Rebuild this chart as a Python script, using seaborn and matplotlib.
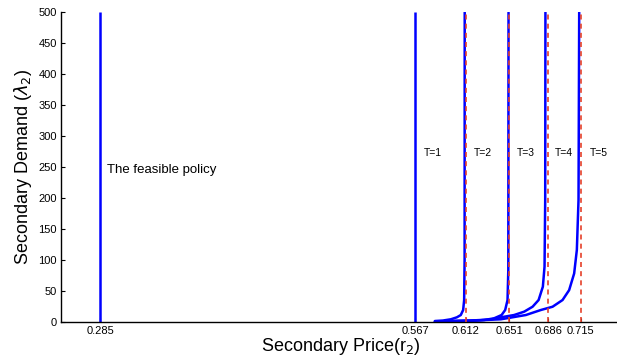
import matplotlib
matplotlib.use("Agg")
import matplotlib.pyplot as plt
import pandas as pd
import seaborn as sns

# vertical policy lines (feasible policy and T=1)
policy_x = [0.285, 0.567]
# asymptotes (red dashed) for T=2..5
asym_x = [0.612, 0.651, 0.686, 0.715]
x_ticks = [0.285, 0.567, 0.612, 0.651, 0.686, 0.715]
y_ticks = list(range(0, 501, 50))

# demand curves
t2_r = [0.5844, 0.5916, 0.5987, 0.6041, 0.6076, 0.6097, 0.6106, 0.6110, 0.6111]
t2_l = [1.1, 1.9, 3.9, 7.1, 10.8, 18.9, 35, 100, 500]
t3_r = [0.5845, 0.6032, 0.6167, 0.6285, 0.6374, 0.6441, 0.6473, 0.6494, 0.6501, 0.6503]
t3_l = [0.3, 1.1, 1.5, 2.7, 5.5, 10.8, 18.9, 35, 84, 500]
t4_r = [0.5845, 0.6166, 0.6345, 0.6434, 0.6553, 0.6643, 0.6718, 0.6772, 0.6810,
        0.6825, 0.6831, 0.6833]
t4_l = [0.3, 1.9, 3.6, 7.1, 10.8, 16.2, 24.2, 35, 56.6, 89, 197, 500]
t5_r = [0.5845, 0.6166, 0.6434, 0.6658, 0.6792, 0.6897, 0.6986, 0.7045, 0.7090,
        0.7114, 0.7129, 0.7135]
t5_l = [0.3, 1.6, 3.9, 10.8, 18.9, 24.2, 35, 51, 78, 116, 197, 500]

t_labels = ["T=1", "T=2", "T=3", "T=4", "T=5"]
t_label_x = [0.5743, 0.6196, 0.6578, 0.6917, 0.7230]

sns.set_style("ticks")
plt.rcParams['font.family'] = ['Liberation Sans', 'DejaVu Sans']
plt.rcParams['text.color'] = 'black'
plt.rcParams['axes.labelcolor'] = 'black'
plt.rcParams['xtick.color'] = 'black'
plt.rcParams['ytick.color'] = 'black'

fig = plt.figure(figsize=(6.17, 3.62), dpi=100)
ax = fig.add_axes([61 / 617, 40.3 / 362, 559 / 617, 309.4 / 362])

blue = '#0000ff'
red = '#e5412a'

ax.vlines(policy_x, 0, 500, color=blue, linewidth=1.8, zorder=2)

curves = [(t2_r, t2_l), (t3_r, t3_l), (t4_r, t4_l), (t5_r, t5_l)]
for r, l in curves:
    df = pd.DataFrame({'r': r, 'lam': l})
    sns.lineplot(data=df, x='r', y='lam', sort=False, color=blue,
                 linewidth=1.8, ax=ax, zorder=2, solid_joinstyle='round')

ax.vlines(asym_x, 0, 500, color=red, linewidth=1.2, linestyles=(0, (3, 2.5)),
          zorder=3)

ax.text(0.291, 245, "The feasible policy", fontsize=9.5, va='center', ha='left')
for lab, xl in zip(t_labels, t_label_x):
    ax.text(xl, 273, lab, fontsize=7.5, va='center', ha='left')

ax.set_xlim(0.25, 0.75)
ax.set_ylim(0, 500)
ax.set_xticks(x_ticks)
ax.set_xticklabels([f'{v:.3f}' for v in x_ticks], fontsize=8)
ax.set_yticks(y_ticks)
ax.set_yticklabels([str(v) for v in y_ticks], fontsize=8)
ax.tick_params(direction='in', length=3, width=0.8, pad=3)
ax.set_xlabel(r'Secondary Price(r$_2$)', fontsize=13, labelpad=0)
ax.set_ylabel(r'Secondary Demand ($\lambda_2$)', fontsize=13, labelpad=3)
sns.despine(ax=ax)
for s in ['left', 'bottom']:
    ax.spines[s].set_linewidth(1.0)
    ax.spines[s].set_color('black')

fig.savefig('out.png', dpi=100)
